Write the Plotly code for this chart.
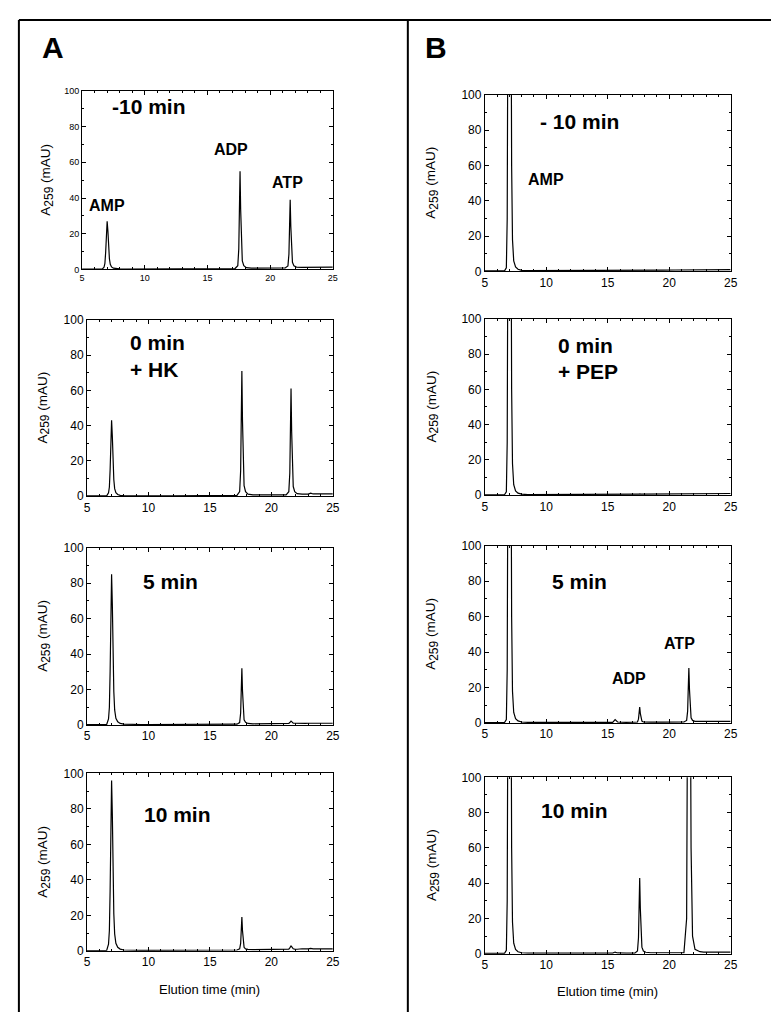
import plotly.graph_objects as go

W, H = 779, 1012

# Common elution-time grid (min)
time_min = [5, 6, 6.6, 6.75, 6.82, 6.88, 6.94, 7.0, 7.06, 7.12,
            7.18, 7.25, 7.35, 7.5, 7.7, 8.0, 8.5, 9.0, 9.2, 9.4,
            10, 12, 14, 15.4, 15.6, 15.8, 16.5, 17.2, 17.42, 17.5,
            17.55, 17.6, 17.65, 17.7, 17.78, 17.9, 18.1, 18.5, 19.5, 20.5,
            21.2, 21.42, 21.5, 21.55, 21.6, 21.65, 21.7, 21.78, 21.9, 22.1,
            22.5, 22.8, 23.0, 23.2, 23.4, 24, 25]

# Panel A (hexokinase)
A_minus10 = [0.2, 0.2, 0.2, 1.2, 3.4, 9.5, 20, 27, 21.5, 12,
             6, 2.9, 1.4, 0.7, 0.4, 0.3, 0.2, 0.2, 0.2, 0.2,
             0.2, 0.2, 0.3, 0.3, 0.3, 0.3, 0.4, 0.5, 2.1, 11.5,
             33.5, 55, 33.5, 14, 4.8, 2.1, 1.0, 0.7, 0.7, 0.7,
             0.8, 2.0, 8.6, 24, 39, 24, 10.5, 4, 2.0, 1.3,
             1.1, 1.1, 1.2, 1.5, 1.2, 1.2, 1.3]
A_0 = [0.2, 0.2, 0.2, 1.9, 5.2, 15, 32, 43, 34, 19,
       9.5, 4.3, 2.0, 1.0, 0.5, 0.3, 0.2, 0.2, 0.2, 0.2,
       0.2, 0.2, 0.3, 0.3, 0.3, 0.3, 0.4, 0.5, 2.6, 14.5,
       43, 71, 43, 18, 6, 2.6, 1.2, 0.8, 0.7, 0.7,
       0.8, 2.6, 13, 37, 61, 37, 16, 5.5, 2.6, 1.5,
       1.2, 1.1, 1.2, 1.8, 1.3, 1.3, 1.4]
A_5 = [0.2, 0.2, 0.3, 3.5, 10, 30, 64, 85, 68, 38,
       19, 8.5, 3.8, 1.8, 0.9, 0.5, 0.3, 0.3, 0.3, 0.3,
       0.3, 0.3, 0.4, 0.4, 0.4, 0.4, 0.5, 0.5, 1.4, 6.8,
       19.5, 32, 19.5, 8.5, 3, 1.5, 0.9, 0.7, 0.7, 0.8,
       0.8, 0.9, 1.4, 2.0, 2.2, 1.9, 1.4, 1.1, 1.0, 0.9,
       0.9, 0.9, 1.0, 1.1, 1.0, 1.0, 1.0]
A_10 = [0.2, 0.2, 0.3, 3.8, 11.5, 34, 72, 96, 77, 43,
        21, 9.6, 4.3, 2.0, 1.0, 0.5, 0.3, 0.3, 0.3, 0.3,
        0.3, 0.3, 0.4, 0.4, 0.4, 0.4, 0.5, 0.5, 1.1, 4.2,
        11.5, 19, 11.5, 5, 2, 1.1, 0.8, 0.7, 0.7, 0.8,
        0.8, 1.0, 1.7, 2.5, 2.8, 2.4, 1.7, 1.2, 1.0, 0.9,
        1.2, 1.0, 1.1, 1.4, 1.1, 1.1, 1.1]

# Panel B (pyruvate kinase)
B_minus10 = [0.3, 0.3, 0.3, 2, 30, 160, 380, 450, 400, 190,
             60, 18, 6, 2.5, 1.2, 0.6, 0.4, 0.4, 0.6, 0.4,
             0.3, 0.3, 0.4, 0.4, 0.4, 0.4, 0.5, 0.6, 0.6, 0.6,
             0.6, 0.7, 0.6, 0.6, 0.6, 0.6, 0.6, 0.7, 0.7, 0.8,
             0.8, 0.8, 0.8, 0.8, 0.8, 0.8, 0.8, 0.8, 0.8, 0.9,
             0.9, 0.9, 0.9, 0.9, 0.9, 0.9, 1.0]
B_0 = [0.3, 0.3, 0.3, 2, 30, 160, 380, 450, 400, 190,
       60, 18, 6, 2.5, 1.2, 0.6, 0.4, 0.4, 0.6, 0.4,
       0.3, 0.3, 0.4, 0.4, 0.4, 0.4, 0.5, 0.6, 0.6, 0.6,
       0.6, 0.8, 0.6, 0.6, 0.6, 0.6, 0.6, 0.7, 0.7, 0.8,
       0.8, 0.8, 0.8, 0.8, 0.8, 0.8, 0.8, 0.8, 0.8, 0.9,
       0.9, 0.9, 0.9, 0.9, 0.9, 0.9, 1.0]
B_5 = [0.3, 0.3, 0.3, 2, 30, 160, 380, 450, 400, 190,
       60, 18, 6, 2.5, 1.2, 0.6, 0.4, 0.4, 0.5, 0.4,
       0.3, 0.3, 0.3, 0.4, 2.0, 0.6, 0.4, 0.4, 0.6, 2.2,
       5.5, 9, 5.5, 2.6, 1.1, 0.6, 0.5, 0.5, 0.5, 0.6,
       0.6, 1.5, 6.7, 19, 31, 19, 8, 3, 1.5, 1.0,
       0.9, 0.9, 0.9, 0.9, 0.9, 0.9, 1.0]
B_10 = [0.3, 0.3, 0.3, 2, 30, 160, 380, 450, 400, 190,
        60, 18, 6, 2.5, 1.2, 0.6, 0.4, 0.4, 0.6, 0.4,
        0.3, 0.3, 0.3, 0.4, 1.0, 0.5, 0.4, 0.4, 1.6, 9,
        26, 43, 26, 11, 3.8, 1.6, 0.9, 0.6, 0.6, 0.6,
        0.7, 20, 160, 380, 450, 400, 190, 60, 10, 2.5,
        1.2, 1.0, 1.0, 1.0, 1.0, 1.0, 1.0]

series = [A_minus10, A_0, A_5, A_10, B_minus10, B_0, B_5, B_10]

x_ticks = [5, 10, 15, 20, 25]
y_ticks = [0, 20, 40, 60, 80, 100]

# panel labels: (text, x, y, anchor, size)
labels = [
    [("-10 min", 7.2, 91, "left", 21), ("AMP", 7.0, 36, "center", 16),
     ("ADP", 16.9, 67, "center", 16), ("ATP", 21.4, 48.6, "center", 16)],
    [("0 min", 8.3, 87, "left", 21), ("+ HK", 8.3, 72, "left", 21)],
    [("5 min", 9.4, 81, "left", 21)],
    [("10 min", 9.5, 77, "left", 21)],
    [("- 10 min", 9.3, 85, "left", 21), ("AMP", 10.0, 52, "center", 16)],
    [("0 min", 10.8, 85, "left", 21), ("+ PEP", 10.8, 70, "left", 21)],
    [("5 min", 10.3, 79.5, "left", 21), ("ADP", 16.7, 25, "center", 16),
     ("ATP", 20.8, 45, "center", 16)],
    [("10 min", 9.4, 81, "left", 21)],
]

# layout geometry in pixels: (x_left, x_right, y_top, y_bottom)
boxes = [
    (72, 326, 77, 258), (77, 326, 309, 488), (77, 326, 540, 720), (77, 326, 769, 949),
    (480, 729, 81, 260), (480, 729, 308, 487), (480, 729, 538, 718), (480, 729, 773, 952),
]
ytitle_x = [37, 33, 34, 34, 427, 427, 427, 427]

FONT = "Arial, Liberation Sans, sans-serif"
YTITLE = "A<sub><span style='font-size:12px'>259</span></sub> (mAU)"

fig = go.Figure()
annotations = []
shapes = []

for i, (ys, box) in enumerate(zip(series, boxes)):
    n = i + 1
    xa = "x" if n == 1 else f"x{n}"
    ya = "y" if n == 1 else f"y{n}"
    fig.add_trace(go.Scatter(x=time_min, y=ys, mode="lines", xaxis=xa, yaxis=ya,
                             line=dict(color="black", width=1.2), showlegend=False,
                             hoverinfo="skip"))
    xl, xr, yt, yb = box
    tfs = 9 if n == 1 else 12
    common = dict(showline=True, linecolor="black", linewidth=1, mirror="ticks",
                  ticks="inside", ticklen=4, tickwidth=1, tickcolor="black",
                  showgrid=False, zeroline=False,
                  tickfont=dict(family=FONT, size=tfs, color="black"))
    fig.layout[f"xaxis{'' if n == 1 else n}"] = dict(
        domain=[xl / W, xr / W], anchor=ya, range=[5, 25],
        tickvals=x_ticks, ticktext=[str(v) for v in x_ticks],
        minor=dict(dtick=1, tick0=5, ticks="inside", ticklen=2, tickcolor="black", showgrid=False),
        **common)
    fig.layout[f"yaxis{'' if n == 1 else n}"] = dict(
        domain=[1 - yb / H, 1 - yt / H], anchor=xa, range=[0, 100],
        tickvals=y_ticks, ticktext=[str(v) for v in y_ticks],
        minor=dict(dtick=10, tick0=0, ticks="inside", ticklen=2, tickcolor="black", showgrid=False),
        **common)
    for (txt, lx, ly, anc, fs) in labels[i]:
        annotations.append(dict(text=f"<b>{txt}</b>", x=lx, y=ly, xref=xa, yref=ya,
                                xanchor=anc, yanchor="middle", showarrow=False,
                                font=dict(family=FONT, size=fs, color="black")))
    annotations.append(dict(text=YTITLE, x=ytitle_x[i] / W,
                            y=1 - (yt + yb) / 2 / H, xref="paper", yref="paper",
                            xanchor="center", yanchor="middle", textangle=-90, showarrow=False,
                            font=dict(family=FONT, size=13.5, color="black")))

# x axis titles
for (cx, cy) in [((77 + 326) / 2, 988), ((480 + 729) / 2, 990)]:
    annotations.append(dict(text="Elution time (min)", x=cx / W, y=1 - cy / H,
                            xref="paper", yref="paper", xanchor="center", yanchor="middle",
                            showarrow=False, font=dict(family=FONT, size=13, color="black")))

# panel letters
for (txt, cx, cy) in [("A", 43, 33), ("B", 431, 33)]:
    annotations.append(dict(text=f"<b>{txt}</b>", x=cx / W, y=1 - cy / H,
                            xref="paper", yref="paper", xanchor="center", yanchor="middle",
                            showarrow=False, font=dict(family=FONT, size=30, color="black")))

# frame lines
for (x0, y0, x1, y1) in [(8, 5, 779, 5), (8, 5, 8, 1012), (402, 5, 402, 1012)]:
    shapes.append(dict(type="line", xref="paper", yref="paper",
                       x0=x0 / W, y0=1 - y0 / H, x1=x1 / W, y1=1 - y1 / H,
                       line=dict(color="black", width=2)))

fig.update_layout(width=W, height=H, margin=dict(l=0, r=0, t=0, b=0),
                  paper_bgcolor="white", plot_bgcolor="white",
                  annotations=annotations, shapes=shapes,
                  font=dict(family=FONT, color="black"))

fig.write_html("out.html")
